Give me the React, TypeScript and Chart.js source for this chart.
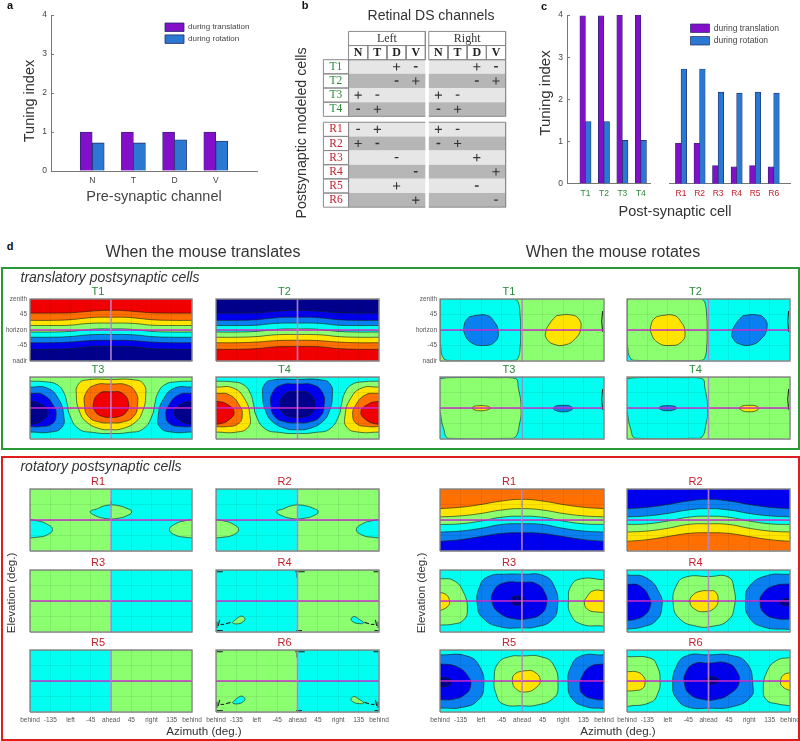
import React, { useEffect, useRef } from "react";
import { Chart, registerables } from "chart.js";

Chart.register(...registerables);
Chart.defaults.font.family = "'Liberation Sans', Arial, sans-serif";

type Pt = [number, number];
type Layer = [string, Pt[], "loop" | "shape" | "start" | "end"];

/* ---------- bars ---------- */
const channelLabels = ["", "N", "T", "D", "V", ""];
const channelTranslation = [null, 1, 1, 1, 1, null];
const channelRotation = [null, 0.72, 0.72, 0.8, 0.77, null];
const tCells = ["T1", "T2", "T3", "T4"];
const tTranslation = [3.98, 3.98, 4, 4];
const tRotation = [1.47, 1.47, 1.03, 1.03];
const rCells = ["R1", "R2", "R3", "R4", "R5", "R6"];
const rTranslation = [0.96, 0.96, 0.43, 0.4, 0.43, 0.4];
const rRotation = [2.72, 2.72, 2.17, 2.15, 2.17, 2.15];
const tuningTicks = [0, 1, 2, 3, 4];

/* ---------- table ---------- */
const channelCols = ["N", "T", "D", "V"];
const tableRows = ["T1", "T2", "T3", "T4", "R1", "R2", "R3", "R4", "R5", "R6"];
const signsLeft = [
  ["", "", "+", "-"], ["", "", "-", "+"], ["+", "-", "", ""], ["-", "+", "", ""],
  ["-", "+", "", ""], ["+", "-", "", ""], ["", "", "-", ""], ["", "", "", "-"], ["", "", "+", ""], ["", "", "", "+"],
];
const signsRight = [
  ["", "", "+", "-"], ["", "", "-", "+"], ["+", "-", "", ""], ["-", "+", "", ""],
  ["+", "-", "", ""], ["-", "+", "", ""], ["", "", "+", ""], ["", "", "", "+"], ["", "", "-", ""], ["", "", "", "-"],
];

/* ---------- contour maps: azimuth, elevation in degrees ---------- */
const azTickLabels: Record<string, string> = { "-180": "behind", "-135": "-135", "-90": "left", "-45": "-45", "0": "ahead", "45": "45", "90": "right", "135": "135", "180": "behind" };
const elTickLabels: Record<string, string> = { "90": "zenith", "45": "45", "0": "horizon", "-45": "-45", "-90": "nadir" };

const wholeMap: Pt[] = [[-180, -90], [180, -90], [180, 90], [-180, 90]];
const leftHalf: Pt[] = [[-180, -90], [0, -90], [0, 90], [-180, 90]];
const rightHalf: Pt[] = [[0, -90], [180, -90], [180, 90], [0, 90]];

const bandAz = [-180, -135, -90, -60, -30, 0, 30, 60, 90, 135, 180];
const tBand1 = [49, 49, 50, 53, 56, 57, 56, 53, 50, 49, 49];
const tBand2 = [28, 28, 30, 34, 37, 37, 37, 34, 30, 28, 28];
const tBand3 = [13, 13, 14, 18, 20, 20, 20, 18, 14, 13, 13];
const tBand4 = [-6, -6, -4, 0, 3, 3, 3, 0, -4, -6, -6];
const tBand5 = [-21, -21, -19, -15, -13, -13, -13, -15, -19, -21, -21];
const tBand6 = [-37, -37, -35, -32, -30, -30, -30, -32, -35, -37, -37];
const tBand7 = [-56, -56, -54, -50, -48, -48, -48, -50, -54, -56, -56];

const rBandAz = [-180, -135, -90, -45, 0, 45, 90, 135, 180];
const rBand1 = [33, 37, 45, 55, 60, 55, 45, 37, 33];
const rBand2 = [9, 12, 19, 29, 33, 29, 19, 12, 9];
const rBand3 = [-13, -11, -3, 8, 11, 8, -3, -11, -13];
const rBand4 = [-35, -32, -24, -13, -11, -13, -24, -32, -35];
const rBand5 = [-62, -57, -48, -39, -37, -39, -48, -57, -62];

const zip = (az: number[], el: number[]): Pt[] => az.map((a, i) => [a, el[i]] as Pt);

const sBoundary: Pt[] = [[-180, 78], [-145, 76], [-120, 68], [-105, 45], [-97, 10], [-92, -20], [-72, -60], [-39, -71], [0, -74], [39, -71], [72, -60], [92, -20], [97, 10], [105, 45], [120, 68], [145, 76], [180, 78]];
const sOuter: Pt[] = [[0, 83], [50, 82], [72, 70], [77, 35], [70, -10], [55, -40], [25, -60], [0, -63], [-25, -60], [-55, -40], [-70, -10], [-77, 35], [-72, 70], [-50, 82]];
const sMiddle: Pt[] = [[0, 70], [35, 67], [55, 45], [59, 10], [50, -25], [25, -41], [0, -43], [-25, -41], [-50, -25], [-59, 10], [-55, 45], [-35, 67]];
const sInner: Pt[] = [[0, 48], [25, 43], [39, 15], [34, -12], [15, -26], [0, -27], [-15, -26], [-34, -12], [-39, 15], [-25, 43]];
const sLobeL3: Pt[] = [[-180, 61], [-142, 58], [-117, 27], [-105, -22], [-109, -56], [-135, -70], [-180, -70]];
const sLobeL2: Pt[] = [[-180, 43], [-150, 38], [-128, 7], [-122, -22], [-131, -46], [-157, -54], [-180, -54]];
const sLobeL1: Pt[] = [[-180, 20], [-157, 12], [-140, -12], [-153, -36], [-172, -46], [-180, -47]];
const sLobeR3: Pt[] = [[180, 61], [142, 58], [117, 27], [105, -22], [109, -56], [135, -70], [180, -70]];
const sLobeR2: Pt[] = [[180, 43], [150, 38], [128, 7], [122, -22], [131, -46], [157, -54], [180, -54]];
const sLobeR1: Pt[] = [[180, 20], [157, 12], [140, -12], [153, -36], [172, -46], [180, -47]];

const rotLeftRegion: Pt[] = [[-15, 90], [-8, 80], [-4, 40], [-3, 0], [-4, -50], [-8, -80], [-15, -88], [-60, -89], [-165, -88], [-175, -75], [-178, -55], [-180, -30], [-180, 90]];
const blobLeft: Pt[] = [[-104, 42], [-78, 43], [-63, 28], [-52, -6], [-60, -35], [-85, -45], [-111, -37], [-126, -11], [-127, 14], [-118, 35]];
const blobRight: Pt[] = [[76, 42], [106, 44], [124, 33], [129, 4], [117, -25], [95, -43], [69, -41], [54, -25], [52, -6], [62, 21]];
const rotRoundRegion: Pt[] = [[-180, 85], [-160, 88], [-60, 88], [-15, 86], [-8, 58], [-2, 0], [-6, -50], [-15, -85], [-30, -88], [-160, -88], [-172, -60], [-180, -10]];
const smallLeft: Pt[] = [[-90, 7], [-75, 5], [-70, 0], [-75, -5], [-90, -8], [-105, -5], [-109, 0], [-105, 5]];
const smallRight: Pt[] = [[90, 8], [105, 6], [111, -1], [105, -8], [90, -11], [75, -8], [69, -1], [75, 6]];

const capLeftHalf: Pt[] = [[0, 44], [-15, 41], [-30, 33], [-46, 24], [-30, 10], [-15, 5], [0, 2]];
const capRightHalf: Pt[] = [[0, 44], [15, 42], [33, 35], [46, 24], [33, 11], [15, 5], [0, 2]];
const edgeLobeLeft: Pt[] = [[-180, 2], [-165, -2], [-145, -10], [-130, -28], [-145, -45], [-165, -50], [-180, -52]];
const edgeLobeRight: Pt[] = [[180, 2], [165, -2], [145, -10], [130, -28], [145, -45], [165, -50], [180, -52]];
const dropLeft: Pt[] = [[-118, -48], [-122, -44], [-130, -47], [-140, -58], [-143, -64], [-130, -66], [-120, -60], [-116, -53]];
const dropRight: Pt[] = [[120, -48], [125, -45], [135, -52], [146, -64], [132, -65], [122, -60], [118, -53]];

const r3Outer: Pt[] = [[0, 78], [47, 74], [71, 42], [78, -17], [65, -56], [32, -75], [0, -78], [-48, -75], [-85, -51], [-98, -12], [-93, 42], [-74, 71], [-34, 78]];
const r3Inner: Pt[] = [[0, 55], [32, 50], [51, 22], [54, -7], [43, -36], [14, -51], [-19, -51], [-48, -36], [-65, -7], [-63, 27], [-41, 52]];
const r3Core: Pt[] = [[-10, 15], [2, 10], [5, 2], [0, -8], [-12, -12], [-22, -7], [-24, 3], [-20, 12]];
const r3LobeL: Pt[] = [[-180, 65], [-151, 60], [-129, 27], [-120, -26], [-129, -56], [-151, -67], [-180, -70]];
const r3DotL: Pt[] = [[-180, 25], [-166, 18], [-159, -2], [-164, -17], [-180, -28]];
const r3LobeR: Pt[] = [[180, 62], [128, 64], [107, 42], [102, 3], [106, -36], [128, -66], [180, -73]];
const r3DotR: Pt[] = [[180, 30], [157, 30], [143, 13], [137, -7], [146, -26], [165, -32], [180, -33]];

const r4Outer: Pt[] = [[0, 71], [43, 70], [56, 37], [57, -17], [43, -56], [10, -73], [-27, -73], [-64, -51], [-78, -7], [-70, 47], [-49, 70]];
const r4Inner: Pt[] = [[0, 30], [15, 27], [21, 0], [12, -22], [-8, -31], [-30, -24], [-41, -2], [-33, 19], [-15, 29]];
const r4LobeL: Pt[] = [[-180, 76], [-137, 67], [-108, 22], [-103, -17], [-115, -56], [-145, -75], [-180, -82]];
const r4DotL: Pt[] = [[-180, 49], [-152, 44], [-130, 8], [-129, -17], [-141, -41], [-163, -54], [-180, -56]];
const r4LobeR: Pt[] = [[180, 78], [127, 73], [90, 42], [82, 3], [89, -46], [120, -75], [180, -83]];
const r4DotR: Pt[] = [[180, 50], [145, 44], [120, 22], [114, -7], [124, -36], [150, -51], [180, -53]];
const r4CoreR: Pt[] = [[180, 8], [165, 5], [159, -5], [165, -12], [180, -14]];

const r5Outer: Pt[] = [[0, 73], [40, 71], [69, 47], [79, -16], [69, -50], [32, -70], [0, -72], [-41, -67], [-56, -41], [-61, 8], [-52, 52], [-26, 71]];
const r5Inner: Pt[] = [[7, 30], [25, 28], [40, 3], [29, -21], [7, -32], [-12, -24], [-21, -1], [-15, 21]];
const r5LobeL: Pt[] = [[-180, 76], [-122, 73], [-93, 42], [-84, -16], [-96, -55], [-129, -76], [-180, -79]];
const r5DotL: Pt[] = [[-180, 50], [-144, 42], [-118, 13], [-113, -16], [-126, -40], [-151, -53], [-180, -55]];
const r5CoreL: Pt[] = [[-180, 10], [-162, 8], [-155, -2], [-162, -14], [-180, -17]];
const r5LobeR: Pt[] = [[180, 76], [128, 72], [106, 37], [101, -6], [109, -50], [139, -74], [180, -80]];
const r5DotR: Pt[] = [[180, 50], [150, 42], [132, 13], [127, -16], [135, -40], [161, -53], [180, -55]];
const r5CoreR: Pt[] = [[180, 8], [173, 0], [180, -11]];

const r6Outer: Pt[] = [[0, 76], [48, 75], [85, 51], [98, -12], [93, -47], [55, -74], [0, -79], [-47, -75], [-71, -50], [-79, -17], [-71, 42], [-47, 74]];
const r6Inner: Pt[] = [[0, 52], [41, 52], [63, 27], [67, -7], [48, -36], [19, -53], [-14, -53], [-43, -36], [-53, -7], [-51, 22], [-32, 50]];
const r6Core: Pt[] = [[8, 13], [20, 8], [23, 1], [18, -6], [6, -9], [-3, -6], [-5, 2], [-2, 10]];
const r6LobeL: Pt[] = [[-180, 71], [-128, 66], [-113, 42], [-107, 3], [-112, -36], [-128, -62], [-180, -74]];
const r6DotL: Pt[] = [[-180, 27], [-157, 26], [-143, 12], [-140, -3], [-146, -22], [-165, -28], [-180, -29]];
const r6LobeR: Pt[] = [[180, 68], [151, 60], [129, 27], [121, -26], [129, -56], [151, -66], [180, -72]];
const r6DotR: Pt[] = [[180, 24], [166, 18], [159, -2], [164, -17], [180, -28]];

const capMarks: Pt[][] = [[[0, 55], [0, 44]], [[-3, 2], [3, 2]]];
const cornerMarks: Pt[][] = [
  [[-178, 85], [-165, 85]], [[-5, 85], [16, 85]], [[168, 85], [179, 85]], [[-1, 82], [-1, 68]],
  [[-178, -86], [-165, -86]], [[-3, -86], [10, -86]], [[170, -86], [179, -86]],
  [[-148, -62], [-158, -66]], [[-162, -68], [-170, -68]], [[-172, -55], [-175, -72]], [[-178, -60], [-178, -78]],
  [[148, -62], [158, -66]], [[162, -68], [170, -68]], [[172, -55], [175, -72]], [[178, -60], [178, -78]],
];
const edgeMarks: Pt[][] = [[[177, 55], [175, 25], [177, -5]]];

/* ---------- styles and layout ---------- */
const C: Record<string, string> = {
  navy: "#00008c", blue: "#0000ee", azure: "#0a7ff0", cyan: "#00fff0",
  green: "#8cff70", yellow: "#ffe400", orange: "#ff7000", red: "#f00000",
};
const INK = "#444";
const PURPLE = "#8210c8";
const BLUE = "#2a78d2";
const BAR_EDGE = "#222a6a";
const TGREEN = "#2a8a3a";
const RRED = "#c4202c";

const colX = [[30, 162], [216, 163], [440, 164], [627, 163]];
const M = 26;

const bands = (az: number[], cols: string[], curves: number[][]): Layer[] =>
  curves.map((el, i) => [cols[i], zip(az, el), "start"] as Layer);
const tBands = [tBand1, tBand2, tBand3, tBand4, tBand5, tBand6, tBand7];
const rBands = [rBand1, rBand2, rBand3, rBand4, rBand5];

interface Panel { t: string; x: number; y: number; az?: boolean; el?: boolean; bg: string; layers: Layer[]; marks?: Pt[][]; }

const panels: Panel[] = [
  { t: "T1", x: 0, y: 299, el: true, bg: "red", layers: bands(bandAz, ["orange", "yellow", "green", "cyan", "azure", "blue", "navy"], tBands) },
  { t: "T2", x: 1, y: 299, bg: "navy", layers: bands(bandAz, ["blue", "azure", "cyan", "green", "yellow", "orange", "red"], tBands) },
  { t: "T3", x: 0, y: 377, bg: "cyan", layers: [["green", sBoundary, "end"], ["yellow", sOuter, "loop"], ["orange", sMiddle, "loop"], ["red", sInner, "loop"], ["azure", sLobeL3, "shape"], ["blue", sLobeL2, "shape"], ["navy", sLobeL1, "shape"], ["azure", sLobeR3, "shape"], ["blue", sLobeR2, "shape"], ["navy", sLobeR1, "shape"]] },
  { t: "T4", x: 1, y: 377, bg: "green", layers: [["cyan", sBoundary, "end"], ["azure", sOuter, "loop"], ["blue", sMiddle, "loop"], ["navy", sInner, "loop"], ["yellow", sLobeL3, "shape"], ["orange", sLobeL2, "shape"], ["red", sLobeL1, "shape"], ["yellow", sLobeR3, "shape"], ["orange", sLobeR2, "shape"], ["red", sLobeR1, "shape"]] },
  { t: "T1", x: 2, y: 299, el: true, bg: "green", marks: edgeMarks, layers: [["cyan", rotLeftRegion, "shape"], ["azure", blobLeft, "loop"], ["yellow", blobRight, "loop"]] },
  { t: "T2", x: 3, y: 299, bg: "cyan", marks: edgeMarks, layers: [["green", rotLeftRegion, "shape"], ["yellow", blobLeft, "loop"], ["azure", blobRight, "loop"]] },
  { t: "T3", x: 2, y: 377, bg: "cyan", marks: edgeMarks, layers: [["green", rotRoundRegion, "shape"], ["yellow", smallLeft, "loop"], ["azure", smallRight, "loop"]] },
  { t: "T4", x: 3, y: 377, bg: "green", marks: edgeMarks, layers: [["cyan", rotRoundRegion, "shape"], ["azure", smallLeft, "loop"], ["yellow", smallRight, "loop"]] },

  { t: "R1", x: 0, y: 489, bg: "cyan", marks: capMarks, layers: [["green", leftHalf, "shape"], ["cyan", capLeftHalf, "shape"], ["green", capRightHalf, "shape"], ["cyan", edgeLobeLeft, "shape"], ["green", edgeLobeRight, "shape"]] },
  { t: "R2", x: 1, y: 489, bg: "green", marks: capMarks, layers: [["cyan", leftHalf, "shape"], ["green", capLeftHalf, "shape"], ["cyan", capRightHalf, "shape"], ["green", edgeLobeLeft, "shape"], ["cyan", edgeLobeRight, "shape"]] },
  { t: "R3", x: 0, y: 570, bg: "cyan", layers: [["green", leftHalf, "shape"]] },
  { t: "R4", x: 1, y: 570, bg: "green", marks: cornerMarks, layers: [["cyan", leftHalf, "shape"], ["green", dropLeft, "loop"], ["cyan", dropRight, "loop"]] },
  { t: "R5", x: 0, y: 650, az: true, bg: "green", layers: [["cyan", leftHalf, "shape"]] },
  { t: "R6", x: 1, y: 650, az: true, bg: "cyan", marks: cornerMarks, layers: [["green", leftHalf, "shape"], ["cyan", dropLeft, "loop"], ["green", dropRight, "loop"]] },

  { t: "R1", x: 2, y: 489, bg: "orange", layers: bands(rBandAz, ["yellow", "green", "cyan", "azure", "blue"], rBands) },
  { t: "R2", x: 3, y: 489, bg: "blue", layers: bands(rBandAz, ["azure", "cyan", "green", "yellow", "orange"], rBands) },
  { t: "R3", x: 2, y: 570, bg: "cyan", layers: [["green", r3LobeL, "shape"], ["yellow", r3DotL, "shape"], ["green", r3LobeR, "shape"], ["yellow", r3DotR, "shape"], ["azure", r3Outer, "loop"], ["blue", r3Inner, "loop"], ["navy", r3Core, "loop"]] },
  { t: "R4", x: 3, y: 570, bg: "cyan", layers: [["azure", r4LobeL, "shape"], ["blue", r4DotL, "shape"], ["azure", r4LobeR, "shape"], ["blue", r4DotR, "shape"], ["navy", r4CoreR, "shape"], ["green", r4Outer, "loop"], ["yellow", r4Inner, "loop"]] },
  { t: "R5", x: 2, y: 650, az: true, bg: "cyan", layers: [["azure", r5LobeL, "shape"], ["blue", r5DotL, "shape"], ["navy", r5CoreL, "shape"], ["azure", r5LobeR, "shape"], ["blue", r5DotR, "shape"], ["navy", r5CoreR, "shape"], ["green", r5Outer, "loop"], ["yellow", r5Inner, "loop"]] },
  { t: "R6", x: 3, y: 650, az: true, bg: "cyan", layers: [["green", r6LobeL, "shape"], ["yellow", r6DotL, "shape"], ["green", r6LobeR, "shape"], ["yellow", r6DotR, "shape"], ["azure", r6Outer, "loop"], ["blue", r6Inner, "loop"], ["navy", r6Core, "loop"]] },
];

const overlayTexts = [
  { s: "a", x: 10, y: 5, f: 11, b: true }, { s: "b", x: 305, y: 5, f: 11, b: true }, { s: "c", x: 544, y: 6, f: 11, b: true }, { s: "d", x: 10, y: 246, f: 11, b: true },
  { s: "Tuning index", x: 29, y: 101, f: 14.5, r: true },
  { s: "Tuning index", x: 545, y: 93, f: 15, r: true },
  { s: "Retinal DS channels", x: 431, y: 15, f: 14 },
  { s: "Postsynaptic modeled cells", x: 301, y: 133, f: 14.2, r: true },
  { s: "Post-synaptic cell", x: 675, y: 211, f: 14.5 },
  { s: "When the mouse translates", x: 203, y: 252, f: 16 },
  { s: "When the mouse rotates", x: 613, y: 252, f: 16 },
  { s: "translatory postsynaptic cells", x: 110, y: 277, f: 14, i: true },
  { s: "rotatory postsynaptic cells", x: 101, y: 466, f: 14, i: true },
  { s: "Elevation (deg.)", x: 11, y: 593, f: 11.5, r: true },
  { s: "Elevation (deg.)", x: 421, y: 593, f: 11.5, r: true },
  { s: "Azimuth (deg.)", x: 204, y: 731, f: 11.6 },
  { s: "Azimuth (deg.)", x: 618, y: 731, f: 11.6 },
];

/* ---------- chart builders ---------- */
const ordered = (ds: any[]) => ds.map((d, i) => ({ ...d, order: ds.length - i }));
const xy = (pts: Pt[]) => pts.map(([x, y]) => ({ x, y }));
const baseLine = { showLine: true, pointRadius: 0, pointHoverRadius: 0, spanGaps: false };

function panelConfig(p: Panel): any {
  const contour = "rgba(25,35,25,0.8)";
  const ds: any[] = [{ ...baseLine, data: xy(wholeMap), borderWidth: 0, backgroundColor: C[p.bg], fill: "shape" }];
  p.layers.forEach(([col, pts, mode]) => {
    const half = pts === leftHalf || pts === rightHalf;
    ds.push({
      ...baseLine,
      data: xy(mode === "loop" ? [...pts, pts[0]] : pts),
      backgroundColor: C[col],
      borderColor: contour,
      borderWidth: half ? 0 : 0.8,
      tension: half ? 0 : 0.5,
      fill: mode === "loop" ? "shape" : mode,
    });
  });
  (p.marks || []).forEach((m) => ds.push({ ...baseLine, data: xy(m), borderColor: "#1c2c24", borderWidth: 1.1, fill: false }));
  ds.push({ ...baseLine, data: [{ x: -180, y: 0 }, { x: 180, y: 0 }], borderColor: "#d22cd2", borderWidth: 1.5, fill: false });
  ds.push({ ...baseLine, data: [{ x: 0, y: -90 }, { x: 0, y: 90 }], borderColor: "rgba(190,140,215,0.95)", borderWidth: 1.6, fill: false });
  ds.push({ ...baseLine, data: xy([...wholeMap, wholeMap[0]]), borderColor: "#8c8c8c", borderWidth: 1.4, fill: false, clip: 3 });
  const tickFont = { size: 6.5 };
  return {
    type: "scatter",
    data: { datasets: ordered(ds) },
    options: {
      animation: false, responsive: false, events: [],
      layout: { padding: { right: M } },
      plugins: {
        legend: { display: false }, tooltip: { enabled: false },
        title: { display: true, text: p.t, color: p.t[0] === "T" ? TGREEN : RRED, font: { size: 11, lineHeight: 1, weight: "normal" }, padding: { top: 3, bottom: 2 } },
      },
      scales: {
        x: {
          type: "linear", min: -180, max: 180,
          border: { display: false },
          grid: { color: "rgba(0,0,0,0.07)", z: 1, drawTicks: false },
          ticks: { display: !!p.az, stepSize: 45, autoSkip: false, maxRotation: 0, padding: 4, color: "#555", font: tickFont, callback: (v: number) => azTickLabels[String(v)] },
          afterFit: (s: any) => { s.height = 18; },
        },
        y: {
          type: "linear", min: -90, max: 90,
          border: { display: false },
          grid: { color: "rgba(0,0,0,0.07)", z: 1, drawTicks: false },
          ticks: { display: !!p.el, stepSize: 45, autoSkip: false, padding: 3, color: "#555", font: tickFont, callback: (v: number) => elTickLabels[String(v)] },
          afterFit: (s: any) => { s.width = M; },
        },
      },
    },
  };
}

const legendPlacer = (x: number, y: number) => ({
  id: "legendPlacer",
  afterLayout(chart: any) {
    const l = chart.legend;
    const pad = l.options.labels.padding;
    const w = l.right - l.left, h = l.bottom - l.top;
    l.left = x - pad; l.top = y - pad; l.right = l.left + w; l.bottom = l.top + h;
  },
});

const legendOpts = (size: number, gap: number) => ({
  display: true, position: "chartArea", align: "start",
  labels: { boxWidth: 19, boxHeight: 8.5, padding: gap, color: INK, font: { size } },
});

const axisFit = (v: number, k: "width" | "height") => (s: any) => { s[k] = v; };

function tuningY(width: number, show: boolean): any {
  return {
    type: "linear", min: 0, max: 4, display: true,
    border: { color: "#777", display: show },
    grid: { drawOnChartArea: false, color: "#777", tickLength: -3, display: show },
    ticks: { display: show, padding: 7, color: INK, font: { size: 8.5 }, autoSkip: false, stepSize: 1 },
    afterBuildTicks: (s: any) => { s.ticks = tuningTicks.map((value) => ({ value })); },
    afterFit: axisFit(width, "width"),
  };
}

function barA(): any {
  const bar = { barThickness: 12, borderColor: BAR_EDGE, borderWidth: 0.8 };
  return {
    type: "bar",
    data: {
      labels: channelLabels,
      datasets: [
        { label: "during translation", data: channelTranslation, backgroundColor: PURPLE, ...bar },
        { label: "during rotation", data: channelRotation, backgroundColor: BLUE, ...bar },
      ],
    },
    options: {
      animation: false, responsive: false, events: [],
      layout: { padding: { top: 15, right: 13 } },
      plugins: { legend: legendOpts(8, 3.4), tooltip: { enabled: false } },
      scales: {
        x: {
          offset: false,
          border: { color: "#777" },
          grid: { display: false, offset: false, drawTicks: false },
          ticks: { padding: 5, color: INK, font: { size: 8.5 }, autoSkip: false, maxRotation: 0 },
          title: { display: true, text: "Pre-synaptic channel", color: INK, font: { size: 14.5, lineHeight: 1.2 }, padding: { top: 0, bottom: 9.6 } },
          afterFit: axisFit(44, "height"),
        },
        y: tuningY(51, true),
      },
    },
    plugins: [legendPlacer(165, 23)],
  };
}

function barC(labels: string[], a: number[], b: number[], min: number, max: number, color: string, left: boolean, leftW: number, pad: any, extra: any[]): any {
  const pts = (v: number[]) => v.map((y, i) => ({ x: i + 1, y }));
  const bar = { barThickness: 5.6, borderColor: BAR_EDGE, borderWidth: 0.7 };
  return {
    type: "bar",
    data: {
      datasets: [
        { label: "during translation", data: pts(a), backgroundColor: PURPLE, ...bar },
        { label: "during rotation", data: pts(b), backgroundColor: BLUE, ...bar },
      ],
    },
    options: {
      animation: false, responsive: false, events: [],
      layout: { padding: pad },
      plugins: { legend: left ? { display: false } : legendOpts(8.5, 4), tooltip: { enabled: false } },
      scales: {
        x: {
          type: "linear", min, max, offset: false,
          border: { color: "#777" },
          grid: { display: false, drawTicks: false },
          ticks: { padding: 5, color, font: { size: 8.5 }, autoSkip: false, maxRotation: 0, callback: (v: number) => labels[v - 1] ?? "" },
          afterBuildTicks: (s: any) => { s.ticks = labels.map((_, i) => ({ value: i + 1 })); },
          afterFit: axisFit(16.3, "height"),
        },
        y: tuningY(leftW, left),
      },
    },
    plugins: extra,
  };
}

const RULE = "#8a8a8a";
const LABEL_X0 = -1.31;
const LEFT_X = 0;
const RIGHT_X = 4.18;
const SPAN = 4;
const R_GAP = 0.42;

function tableConfig(): any {
  const rowTop = (i: number) => (i < 4 ? i : i + R_GAP);
  const rect = (x0: number, y0: number, x1: number, y1: number): Pt[] => [[x0, y0], [x1, y0], [x1, y1], [x0, y1]];
  const fillDs = (pts: Pt[], col: string) => ({ ...baseLine, data: xy(pts), backgroundColor: col, borderWidth: 0, fill: "shape", clip: false });
  const lineDs = (pts: Pt[]) => ({ ...baseLine, data: xy(pts), borderColor: RULE, borderWidth: 1, fill: false, clip: false });
  const box = (x0: number, y0: number, x1: number, y1: number) => { const r = rect(x0, y0, x1, y1); return lineDs([...r, r[0]]); };
  const ds: any[] = [];
  const plus: Pt[] = [];
  const minus: Pt[] = [];
  tableRows.forEach((_, i) => {
    const y = rowTop(i);
    const col = i % 2 === 0 ? "#e6e6e6" : "#b6b6b6";
    ds.push(fillDs(rect(LEFT_X, y, LEFT_X + SPAN, y + 1), col));
    ds.push(fillDs(rect(RIGHT_X, y, RIGHT_X + SPAN, y + 1), col));
    [[signsLeft, LEFT_X], [signsRight, RIGHT_X]].forEach(([m, x0]: any) => {
      m[i].forEach((s: string, c: number) => {
        if (s === "+") plus.push([x0 + c + 0.5, y + 0.5]);
        if (s === "-") minus.push([x0 + c + 0.5, y + 0.5]);
      });
    });
    ds.push(box(LABEL_X0, y, LEFT_X, y + 1));
  });
  [[0, 4], [4 + R_GAP, 10 + R_GAP]].forEach(([a, b]) => {
    ds.push(lineDs([[LEFT_X, a], [LEFT_X + SPAN, a]]), lineDs([[LEFT_X, b], [LEFT_X + SPAN, b]]));
    ds.push(lineDs([[RIGHT_X, a], [RIGHT_X + SPAN, a]]), lineDs([[RIGHT_X, b], [RIGHT_X + SPAN, b]]));
    ds.push(lineDs([[RIGHT_X + SPAN, a], [RIGHT_X + SPAN, b]]));
  });
  [LEFT_X, RIGHT_X].forEach((x0) => {
    ds.push(box(x0, -2, x0 + SPAN, -1));
    channelCols.forEach((_, c) => ds.push(box(x0 + c, -1, x0 + c + 1, 0)));
  });
  ds.push({ data: xy(plus), showLine: false, pointStyle: "cross", pointRadius: 3.6, pointBorderColor: "#333", pointBorderWidth: 1.1, pointBackgroundColor: "#333" });
  ds.push({ data: xy(minus), showLine: false, pointStyle: "line", pointRadius: 1.9, pointBorderColor: "#333", pointBorderWidth: 1.4, pointBackgroundColor: "#333" });

  const textPlugin = {
    id: "tableText",
    afterDatasetsDraw(chart: any) {
      const { ctx, scales: { x, y } } = chart;
      const put = (s: string, vx: number, vy: number, font: string, color: string) => {
        ctx.font = font; ctx.fillStyle = color; ctx.textAlign = "center"; ctx.textBaseline = "middle";
        ctx.fillText(s, x.getPixelForValue(vx), y.getPixelForValue(vy));
      };
      const serif = "'Liberation Serif', 'Times New Roman', serif";
      put("Left", LEFT_X + SPAN / 2, -1.5, `12px ${serif}`, "#333");
      put("Right", RIGHT_X + SPAN / 2, -1.5, `12px ${serif}`, "#333");
      [LEFT_X, RIGHT_X].forEach((x0) => channelCols.forEach((c, i) => put(c, x0 + i + 0.5, -0.5, `bold 12px ${serif}`, "#222")));
      tableRows.forEach((r, i) => put(r, LABEL_X0 / 2, rowTop(i) + 0.5, `11.5px ${serif}`, r[0] === "T" ? TGREEN : RRED));
    },
  };

  return {
    type: "scatter",
    data: { datasets: ordered(ds) },
    options: {
      animation: false, responsive: false, events: [],
      plugins: { legend: { display: false }, tooltip: { enabled: false } },
      scales: {
        x: { type: "linear", display: false, min: LABEL_X0, max: RIGHT_X + SPAN },
        y: { type: "linear", display: false, min: -2, max: 10 + R_GAP + 0.03, reverse: true },
      },
    },
    plugins: [textPlugin],
  };
}

const canvases: { x: number; y: number; w: number; h: number; make: () => any }[] = [
  { x: 0, y: 0, w: 270, h: 215, make: barA },
  { x: 318, y: 26, w: 193, h: 187, make: tableConfig },
  { x: 535, y: 0, w: 116, h: 200, make: () => barC(tCells, tTranslation, tRotation, 0, 4.55, TGREEN, true, 32, { top: 15 }, []) },
  { x: 669, y: 0, w: 130, h: 200, make: () => barC(rCells, rTranslation, rRotation, 0.35, 6.88, RRED, false, 0, { top: 15, right: 9 }, [legendPlacer(21.5, 24)]) },
  ...panels.map((p) => ({
    x: colX[p.x][0] - M, y: p.y - 16, w: colX[p.x][1] + 2 * M, h: 16 + 62 + 18,
    make: () => panelConfig(p),
  })),
];

export default function App() {
  const refs = useRef<(HTMLCanvasElement | null)[]>([]);
  useEffect(() => {
    const charts = canvases.map((c, i) => new Chart(refs.current[i]!, c.make()));
    return () => charts.forEach((c) => c.destroy());
  }, []);
  return (
    <div style={{ position: "absolute", left: 0, top: 0, width: 800, height: 741, overflow: "hidden", background: "#fff", fontFamily: "'Liberation Sans', Arial, sans-serif" }}>
      <div style={{ position: "absolute", left: 1, top: 267, width: 795, height: 179, border: "2px solid #2a9a36" }} />
      <div style={{ position: "absolute", left: 1, top: 456, width: 795, height: 281, border: "2px solid #e01c1c" }} />
      {canvases.map((c, i) => (
        <canvas key={i} ref={(el) => { refs.current[i] = el; }} width={c.w} height={c.h}
          style={{ position: "absolute", left: c.x, top: c.y, width: c.w, height: c.h }} />
      ))}
      {overlayTexts.map((t: any, i) => (
        <div key={i} style={{
          position: "absolute", left: t.x, top: t.y, width: 300, height: 20, textAlign: "center", whiteSpace: "nowrap",
          color: t.b ? "#111" : "#333", fontSize: t.f,
          fontWeight: t.b ? "bold" : "normal", fontStyle: t.i ? "italic" : "normal", lineHeight: "20px",
          transform: `translate(-150px,-10px)${t.r ? " rotate(-90deg)" : ""}`,
        }}>{t.s}</div>
      ))}
    </div>
  );
}
